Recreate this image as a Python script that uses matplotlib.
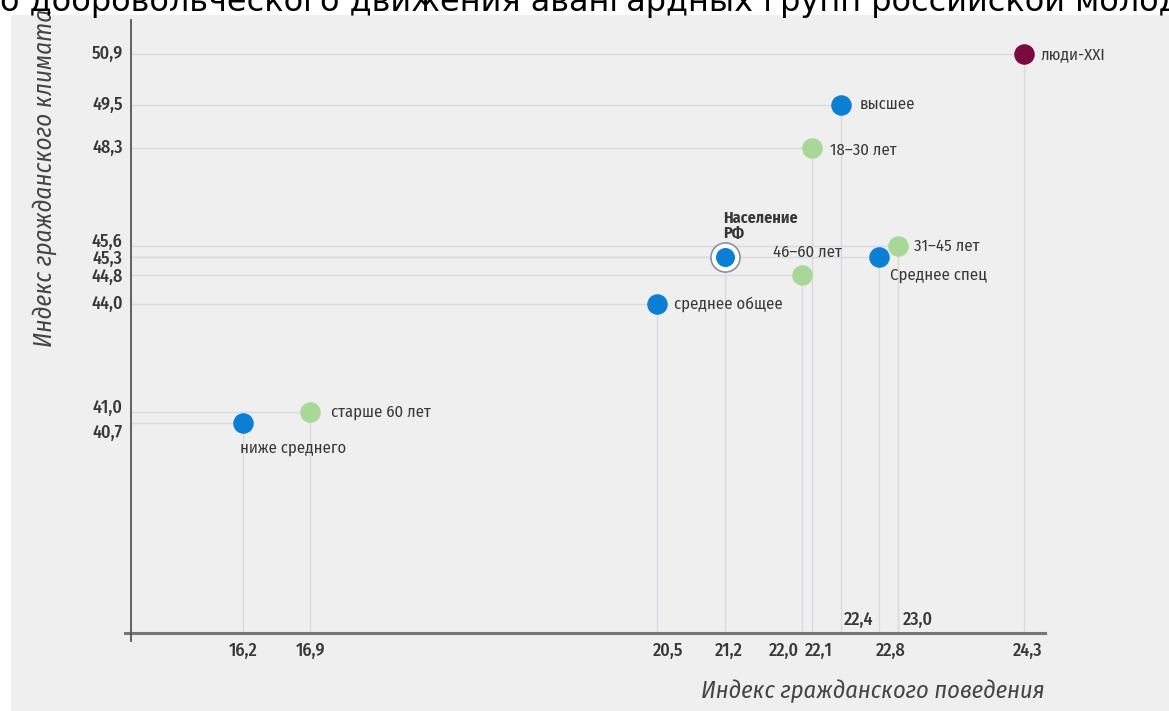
import matplotlib
matplotlib.use("Agg")
import matplotlib.pyplot as plt
from matplotlib.patches import Rectangle

# ---------- DATA ----------
labels = ["ниже среднего", "старше 60 лет", "среднее общее", "Население\nРФ",
          "46–60 лет", "18–30 лет", "высшее", "Среднее спец", "31–45 лет", "люди-XXI"]
behaviour = [16.2, 16.9, 20.5, 21.2, 22.0, 22.1, 22.4, 22.8, 23.0, 24.3]
climate = [40.7, 41.0, 44.0, 45.3, 44.8, 48.3, 49.5, 45.3, 45.6, 50.9]
groups = ["edu", "age", "edu", "pop", "age", "age", "edu", "edu", "age", "xxi"]

x_ticks = [16.2, 16.9, 20.5, 21.2, 22.0, 22.1, 22.8, 24.3]
x_ticks_high = [22.4, 23.0]
y_ticks = [50.9, 49.5, 48.3, 45.6, 45.3, 44.8, 44.0, 41.0, 40.7]

title = "Индекс гражданского климата и гражданского добровольческого движения авангардных групп российской молодежи"

colors = {"edu": "#0a7fd4", "age": "#a8d898", "pop": "#0a7fd4", "xxi": "#7a0a40"}

# ---------- STYLE ----------
plt.rcParams["font.family"] = ["Fira Sans Condensed", "DejaVu Sans"]
txt_col = "#383838"
grid_col = "#d8dae0"

W, H = 1169, 711
fig = plt.figure(figsize=(W / 100, H / 100), dpi=100)
fig.patch.set_facecolor("white")
fig.patches.append(Rectangle((11 / W, 0), 1, 1 - 15 / H, transform=fig.transFigure,
                             facecolor="#efefef", edgecolor="none", zorder=-10))

# axes placed where the axis lines are in the picture (pixels)
ax_left, ax_right, ax_top, ax_bottom = 131, 1045, 20, 633
ax = fig.add_axes([ax_left / W, 1 - ax_bottom / H, (ax_right - ax_left) / W, (ax_bottom - ax_top) / H])
ax.set_facecolor("none")
ax.set_xlim(15.04, 24.52)
ax.set_ylim(34.9, 51.84)
for s in ax.spines.values():
    s.set_visible(False)
ax.set_xticks([])
ax.set_yticks([])

# axis lines
ax.plot([-0.007, 1], [0, 0], transform=ax.transAxes, color="#767676", lw=2.2, clip_on=False)
ax.plot([0, 0], [-0.013, 1], transform=ax.transAxes, color="#555555", lw=1.3, clip_on=False)

# guide lines from each point to the axes
xmin, xmax = ax.get_xlim()
ymin, ymax = ax.get_ylim()
for x, y in zip(behaviour, climate):
    ax.plot([xmin, x], [y, y], color=grid_col, lw=1, zorder=1)
    ax.plot([x, x], [ymin, y], color=grid_col, lw=1, zorder=1)

# points
for x, y, g in zip(behaviour, climate, groups):
    if g == "pop":
        ax.scatter(x, y, s=440, color="white", edgecolor="#8a90a6", linewidth=1.2, zorder=3)
        ax.scatter(x, y, s=160, color=colors[g], zorder=4)
    else:
        ax.scatter(x, y, s=190, color=colors[g], zorder=3)

# point labels: offsets in points
label_pos = {
    "ниже среднего": (-2, -18, "left", "normal"),
    "старше 60 лет": (15, 0, "left", "normal"),
    "среднее общее": (12, 0, "left", "normal"),
    "Население\nРФ": (-1.5, 22, "left", "bold"),
    "46–60 лет": (4, 16.5, "center", "normal"),
    "18–30 лет": (13.5, -1.5, "left", "normal"),
    "высшее": (13.5, 0, "left", "normal"),
    "Среднее спец": (8, -13, "left", "normal"),
    "31–45 лет": (11, 0, "left", "normal"),
    "люди-XXI": (12, 0, "left", "normal"),
}
for lab, x, y in zip(labels, behaviour, climate):
    dx, dy, ha, fw = label_pos[lab]
    ax.annotate(lab, (x, y), xytext=(dx, dy), textcoords="offset points",
                ha=ha, va="center", fontsize=12 if fw == "normal" else 11.5,
                color=txt_col, fontweight=fw, linespacing=0.95, zorder=5)

# x tick labels, nudged sideways as in the picture
x_nudge = {20.5: 8, 21.2: 3, 22.0: -13, 22.1: 5, 22.8: 8, 24.3: 3, 22.4: 13, 23.0: 14}
for v in x_ticks:
    ax.annotate(f"{v:.1f}".replace(".", ","), (v, 0), xycoords=("data", "axes fraction"),
                xytext=(x_nudge.get(v, 0), -12.5), textcoords="offset points",
                ha="center", va="center", fontsize=13, fontweight="medium", color=txt_col)
for v in x_ticks_high:
    ax.annotate(f"{v:.1f}".replace(".", ","), (v, 0), xycoords=("data", "axes fraction"),
                xytext=(x_nudge.get(v, 0), 9.5), textcoords="offset points",
                ha="center", va="center", fontsize=13, fontweight="medium", color=txt_col)

# y tick labels, pushed apart where they crowd
y_nudge = {45.6: 3, 45.3: -1.7, 44.8: -1.5, 41.0: 3, 40.7: -7}
for v in y_ticks:
    ax.annotate(f"{v:.1f}".replace(".", ","), (0, v), xycoords=("axes fraction", "data"),
                xytext=(-6, y_nudge.get(v, 0)), textcoords="offset points",
                ha="right", va="center", fontsize=13, fontweight="medium", color=txt_col)

# axis titles
fig.text(1045 / W, 1 - 691 / H, "Индекс гражданского поведения", ha="right", va="center",
         fontsize=17.5, style="italic", color="#454545")
fig.text(44 / W, 1 - 178 / H, "Индекс гражданского климата", ha="center", va="center",
         rotation=90, fontsize=18, style="italic", color="#454545")

# title, cut off at the top of the picture
prefix = "Индекс гражданского климата и гражданског"
t = fig.text(0, 1 - 11 / H, title, ha="left", va="baseline", fontsize=23, color="black",
             family="DejaVu Sans")
tp = fig.text(0, 0, prefix, fontsize=23, family="DejaVu Sans")
fig.canvas.draw()
pw = tp.get_window_extent().width
tp.remove()
t.set_x(-pw / W)

fig.savefig("out.png", dpi=100)
